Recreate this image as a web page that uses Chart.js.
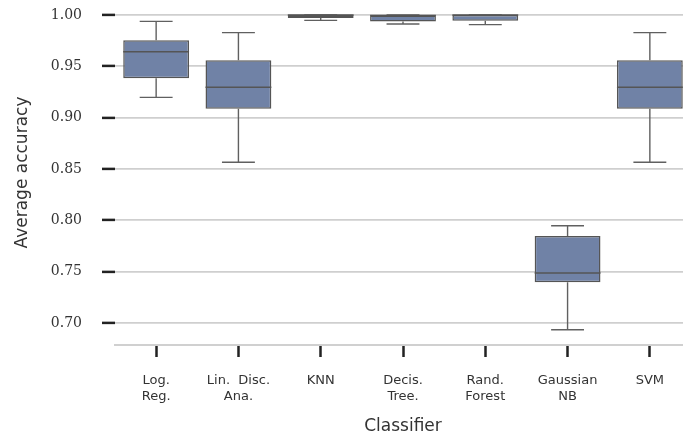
<!DOCTYPE html>
<html>
<head>
<meta charset="utf-8">
<script src="https://cdn.jsdelivr.net/npm/chart.js@4"></script>
<style>
    html, body { margin: 0; padding: 0; background: #fff; overflow: hidden; }
    #chart { display: block; }
</style>
</head>
<body>
<canvas id="chart" width="700" height="438"></canvas>
<script>
const classifiers = [['Log.', 'Reg.'], ['Lin.  Disc.', 'Ana.'], 'KNN', ['Decis.', 'Tree.'], ['Rand.', 'Forest'], ['Gaussian', 'NB'], 'SVM'];
const whiskerLow = [0.9198, 0.8566, 0.9948, 0.9912, 0.9906, 0.6935, 0.8566];
const q1 = [0.9383, 0.9088, 0.9970, 0.9936, 0.9945, 0.7396, 0.9088];
const medians = [0.9643, 0.9296, 1.0000, 0.9996, 1.0000, 0.7487, 0.9296];
const q3 = [0.9753, 0.9559, 1.0000, 0.9996, 1.0000, 0.7847, 0.9559];
const whiskerHigh = [0.9938, 0.9828, 1.0000, 1.0000, 1.0000, 0.7948, 0.9828];
const yTicks = [0.70, 0.75, 0.80, 0.85, 0.90, 0.95, 1.00];

const boxColor = '#7082a6';
const edgeColor = '#555555';
const lineColor = '#606060';

// whiskers, caps and medians drawn on top of the floating bars
const boxPlotLines = {
    id: 'boxPlotLines',
    afterDatasetsDraw(chart) {
        const ctx = chart.ctx;
        const yScale = chart.scales.y;
        const meta = chart.getDatasetMeta(0);
        ctx.save();
        meta.data.forEach((bar, i) => {
            const x = bar.x;
            const half = bar.width / 2;
            const yLow = yScale.getPixelForValue(whiskerLow[i]);
            const yQ1 = yScale.getPixelForValue(q1[i]);
            const yMed = yScale.getPixelForValue(medians[i]);
            const yQ3 = yScale.getPixelForValue(q3[i]);
            const yHigh = yScale.getPixelForValue(whiskerHigh[i]);

            ctx.strokeStyle = lineColor;
            ctx.lineWidth = 1.4;
            ctx.beginPath();
            ctx.moveTo(x, yQ1); ctx.lineTo(x, yLow);
            ctx.moveTo(x, yQ3); ctx.lineTo(x, yHigh);
            ctx.moveTo(x - half / 2, yLow); ctx.lineTo(x + half / 2, yLow);
            ctx.moveTo(x - half / 2, yHigh); ctx.lineTo(x + half / 2, yHigh);
            ctx.stroke();

            ctx.strokeStyle = edgeColor;
            ctx.lineWidth = 1.5;
            ctx.beginPath();
            ctx.moveTo(x - half, yMed); ctx.lineTo(x + half, yMed);
            ctx.stroke();
        });
        ctx.restore();
    }
};

new Chart(document.getElementById('chart'), {
    type: 'bar',
    data: {
        labels: classifiers,
        datasets: [{
            data: q1.map((v, i) => [v, q3[i]]),
            backgroundColor: boxColor,
            borderColor: edgeColor,
            borderWidth: 1.5,
            borderSkipped: false,
            barPercentage: 0.8,
            categoryPercentage: 1.0
        }]
    },
    options: {
        responsive: false,
        animation: false,
        layout: { padding: { left: 0, right: 9, top: 0, bottom: 0 } },
        plugins: {
            legend: { display: false },
            tooltip: { enabled: false }
        },
        scales: {
            x: {
                offset: true,
                border: { display: true, color: '#d0d0d0', width: 2 },
                grid: {
                    offset: false,
                    drawOnChartArea: false,
                    tickColor: '#222',
                    tickWidth: 2.5,
                    tickLength: 12
                },
                ticks: {
                    color: '#333',
                    font: { family: 'DejaVu Sans', size: 13 },
                    padding: 16,
                    maxRotation: 0,
                    autoSkip: false
                },
                title: {
                    display: true,
                    text: 'Classifier',
                    color: '#333',
                    font: { family: 'DejaVu Sans', size: 17 },
                    padding: { top: 0, bottom: 1 }
                },
                afterFit(scale) {
                    scale.height = 93;
                    scale.paddingLeft = 0;
                    scale.paddingRight = 0;
                }
            },
            y: {
                min: 0.6786,
                max: 1.0146,
                border: { display: false },
                grid: {
                    color: '#cfcfcf',
                    lineWidth: 1.8,
                    tickColor: '#222',
                    tickWidth: 2.5,
                    tickLength: 13
                },
                ticks: {
                    color: '#333',
                    font: { family: 'DejaVu Serif', size: 14 },
                    padding: 20,
                    callback: v => v.toFixed(2)
                },
                afterBuildTicks(scale) {
                    scale.ticks = yTicks.map(v => ({ value: v }));
                },
                title: {
                    display: true,
                    text: 'Average accuracy',
                    color: '#333',
                    font: { family: 'DejaVu Sans', size: 17 },
                    padding: { top: 12, bottom: 0 }
                },
                afterFit(scale) {
                    scale.width = 115;
                    scale.paddingTop = 0;
                    scale.paddingBottom = 0;
                }
            }
        }
    },
    plugins: [boxPlotLines]
});
</script>
</body>
</html>
